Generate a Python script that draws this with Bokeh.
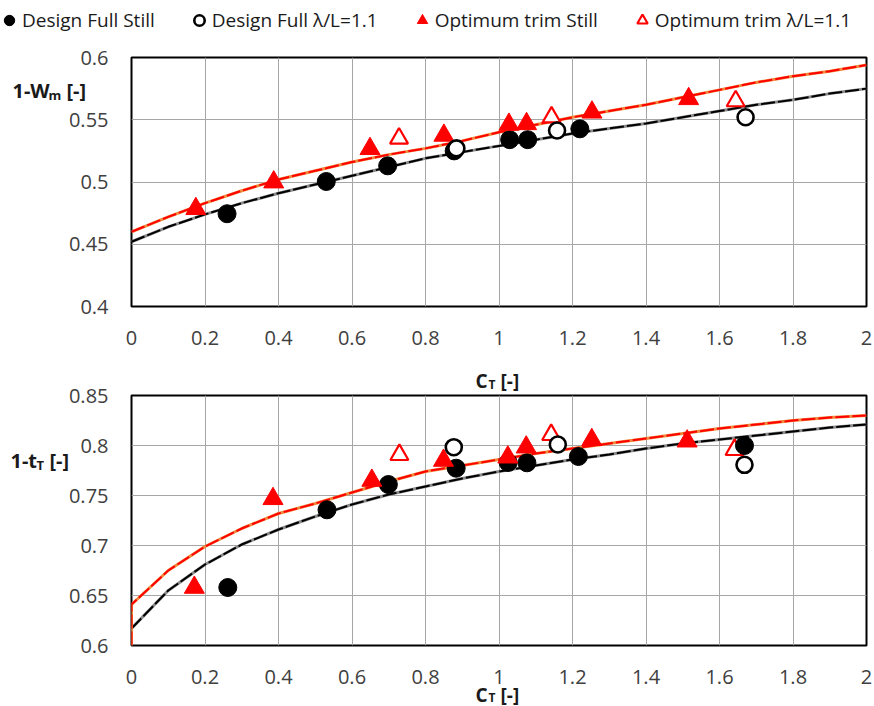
from bokeh.plotting import figure
from bokeh.models import Legend, LegendItem, Label, FixedTicker, Range1d, CustomJSTickFormatter
from bokeh.layouts import column
from bokeh.embed import file_html
from bokeh.resources import INLINE

# ---------------- data ----------------
x_ticks = [0, 0.2, 0.4, 0.6, 0.8, 1, 1.2, 1.4, 1.6, 1.8, 2]
wm_ticks = [0.4, 0.45, 0.5, 0.55, 0.6]
t_ticks = [0.6, 0.65, 0.7, 0.75, 0.8, 0.85]

legend_names = ["Design Full Still", "Design Full \u03bb/L=1.1",
                "Optimum trim Still", "Optimum trim \u03bb/L=1.1"]

# trend lines, 1-Wm
ct_fit = [0.0, 0.1, 0.2, 0.3, 0.4, 0.5, 0.6, 0.7, 0.8, 0.9, 1.0,
          1.1, 1.2, 1.3, 1.4, 1.5, 1.6, 1.7, 1.8, 1.9, 2.0]
wm_fit_design = [0.452, 0.464, 0.474, 0.483, 0.491, 0.498, 0.505, 0.512, 0.519, 0.524, 0.529,
                 0.534, 0.539, 0.543, 0.547, 0.552, 0.557, 0.562, 0.566, 0.571, 0.575]
wm_fit_opt = [0.460, 0.472, 0.483, 0.493, 0.502, 0.509, 0.516, 0.522, 0.527, 0.533, 0.540,
              0.546, 0.552, 0.557, 0.562, 0.568, 0.574, 0.580, 0.585, 0.589, 0.594]

# trend lines, 1-tT
ct_fit_t = [0.0, 0.0, 0.1, 0.2, 0.3, 0.4, 0.5, 0.6, 0.7, 0.8, 0.9, 1.0,
            1.1, 1.2, 1.3, 1.4, 1.5, 1.6, 1.7, 1.8, 1.9, 2.0]
t_fit_design = [0.600, 0.617, 0.655, 0.681, 0.701, 0.716, 0.729, 0.741, 0.751, 0.759, 0.767, 0.774,
                0.780, 0.786, 0.791, 0.797, 0.802, 0.806, 0.810, 0.814, 0.818, 0.821]
t_fit_opt = [0.600, 0.641, 0.675, 0.699, 0.717, 0.732, 0.742, 0.753, 0.764, 0.774, 0.780, 0.786,
             0.792, 0.797, 0.802, 0.807, 0.812, 0.817, 0.821, 0.825, 0.828, 0.830]

# measured points, 1-Wm
wm_ds_ct = [0.26, 0.53, 0.697, 0.878, 1.029, 1.078, 1.220]
wm_ds_v = [0.4745, 0.5004, 0.513, 0.525, 0.534, 0.534, 0.5427]
wm_dw_ct = [0.884, 1.158, 1.671]
wm_dw_v = [0.527, 0.5414, 0.552]
wm_os_ct = [0.175, 0.387, 0.649, 0.850, 1.027, 1.075, 1.253, 1.516]
wm_os_v = [0.4785, 0.4999, 0.5267, 0.5374, 0.5462, 0.5467, 0.556, 0.5668]
wm_ow_ct = [0.728, 1.143, 1.644]
wm_ow_v = [0.535, 0.552, 0.565]

# measured points, 1-tT
t_ds_ct = [0.262, 0.532, 0.699, 0.8835, 1.025, 1.076, 1.216, 1.668]
t_ds_v = [0.658, 0.7357, 0.761, 0.7773, 0.783, 0.7827, 0.789, 0.800]
t_dw_ct = [0.877, 1.160, 1.668]
t_dw_v = [0.7983, 0.801, 0.7807]
t_os_ct = [0.171, 0.385, 0.654, 0.849, 1.024, 1.074, 1.2525, 1.512]
t_os_v = [0.658, 0.7467, 0.765, 0.785, 0.7883, 0.7983, 0.8057, 0.8043]
t_ow_ct = [0.729, 1.142, 1.641]
t_ow_v = [0.7907, 0.8107, 0.7957]

FONT = "Open Sans"
TICK_COLOR = "#404040"
TEXT_COLOR = "#1a1a1a"
W = 872
H_PAGE = 706

STYLE_DS = dict(marker="circle", size=18, fill_color="black", line_color="black")
STYLE_DW = dict(marker="circle", size=16, fill_color="white", line_color="black", line_width=2.6)
STYLE_OS = dict(marker="triangle", size=20, fill_color="#ff0000", line_color="#ff0000")
STYLE_OW = dict(marker="triangle", size=18, fill_color="white", line_color="#ff0000", line_width=2.2)


def base_fig(height, ymin, ymax, yticks, border_top, border_bottom):
    p = figure(width=W, height=height, output_backend="svg", toolbar_location=None,
               x_range=Range1d(0, 2), y_range=Range1d(ymin, ymax),
               min_border_left=131, min_border_right=W - 131 - 735,
               min_border_top=border_top, min_border_bottom=border_bottom)
    p.outline_line_color = "black"
    p.outline_line_width = 2
    fmt = CustomJSTickFormatter(code="return tick.toString();")
    p.xaxis.ticker = FixedTicker(ticks=x_ticks)
    p.yaxis.ticker = FixedTicker(ticks=yticks)
    p.xaxis.formatter = fmt
    p.yaxis.formatter = fmt
    for ax in (p.xaxis, p.yaxis):
        ax.axis_line_color = None
        ax.major_tick_line_color = None
        ax.minor_tick_line_color = None
        ax.major_label_text_font = FONT
        ax.major_label_text_font_size = "20px"
        ax.major_label_text_color = TICK_COLOR
    p.xaxis.major_label_standoff = 18
    p.yaxis.major_label_standoff = 17
    p.grid.grid_line_color = "#a6a6a6"
    p.grid.grid_line_width = 1
    p.background_fill_color = "white"
    p.border_fill_color = "white"
    return p


def draw(p, fx, fy_d, fy_o, ds, dw, os_, ow):
    p.line(fx, fy_d, line_color="#8c8c8c", line_width=3)
    p.line(fx, fy_d, line_color="black", line_width=2, line_dash="14 3")
    p.line(fx, fy_o, line_color="#f08a3c", line_width=3)
    p.line(fx, fy_o, line_color="#ff0000", line_width=2, line_dash="14 3")
    p.scatter(ow[0], ow[1], **STYLE_OW)
    p.scatter(ds[0], ds[1], **STYLE_DS)
    p.scatter(os_[0], os_[1], **STYLE_OS)
    p.scatter(dw[0], dw[1], **STYLE_DW)


# ---------------- charts ----------------
H1 = 356
p1 = base_fig(H1, 0.4, 0.6, wm_ticks, 57, 50)
draw(p1, ct_fit, wm_fit_design, wm_fit_opt,
     (wm_ds_ct, wm_ds_v), (wm_dw_ct, wm_dw_v), (wm_os_ct, wm_os_v), (wm_ow_ct, wm_ow_v))

H2 = 350
p2 = base_fig(H2, 0.6, 0.85, t_ticks, 39, 61)
draw(p2, ct_fit_t, t_fit_design, t_fit_opt,
     (t_ds_ct, t_ds_v), (t_dw_ct, t_dw_v), (t_os_ct, t_os_v), (t_ow_ct, t_ow_v))

charts = column(p1, p2, spacing=0)

# ---------------- transparent overlay (separate root) for legend and axis titles ----------------
po = figure(width=W, height=H_PAGE, output_backend="svg", toolbar_location=None,
            x_range=Range1d(10, 11), y_range=Range1d(10, 11),
            x_axis_location=None, y_axis_location=None,
            min_border_left=0, min_border_right=0, min_border_top=0, min_border_bottom=0,
            styles={"position": "absolute", "top": "0px", "left": "0px"})
po.grid.visible = False
po.outline_line_color = None
po.background_fill_alpha = 0
po.border_fill_alpha = 0

# legend renderers (their data lie outside this overlay's ranges, so only the legend shows)
leg_r = [po.scatter(wm_ds_ct, wm_ds_v, **STYLE_DS), po.scatter(wm_dw_ct, wm_dw_v, **STYLE_DW),
         po.scatter(wm_os_ct, wm_os_v, **STYLE_OS), po.scatter(wm_ow_ct, wm_ow_v, **STYLE_OW)]
legend = Legend(items=[LegendItem(label=n, renderers=[r]) for n, r in zip(legend_names, leg_r)],
                orientation="horizontal", location=(-4, H_PAGE - 35))
legend.label_text_font = FONT
legend.label_text_font_size = "19px"
legend.label_text_color = TEXT_COLOR
legend.glyph_width = 26
legend.glyph_height = 30
legend.label_standoff = 0
legend.spacing = 31
legend.padding = 0
legend.margin = 0
legend.border_line_color = None
legend.background_fill_alpha = 0
po.add_layout(legend, "center")


def add_text(x, page_y, text, size):
    # x, page_y: position in page pixels (top-left origin), baseline anchored
    po.add_layout(Label(x=x, y=H_PAGE - page_y, x_units="screen", y_units="screen", text=text,
                        text_font=FONT, text_font_size=size, text_font_style="bold",
                        text_color=TEXT_COLOR, text_baseline="alphabetic"))


# 1-Wm [-]
add_text(12, 90, "1-W", "20px")
add_text(48, 94, "m", "13px")
add_text(66, 90, "[-]", "20px")
# CT [-] (top)
add_text(475, 380, "C", "19px")
add_text(488, 384, "T", "12px")
add_text(500, 380, "[-]", "19px")
# 1-tT [-]
add_text(10, 460, "1-t", "20px")
add_text(36, 464, "T", "13px")
add_text(49, 460, "[-]", "20px")
# CT [-] (bottom)
add_text(475, 694, "C", "19px")
add_text(488, 697, "T", "12px")
add_text(500, 694, "[-]", "19px")

open("out.html", "w").write(file_html([charts, po], INLINE))
